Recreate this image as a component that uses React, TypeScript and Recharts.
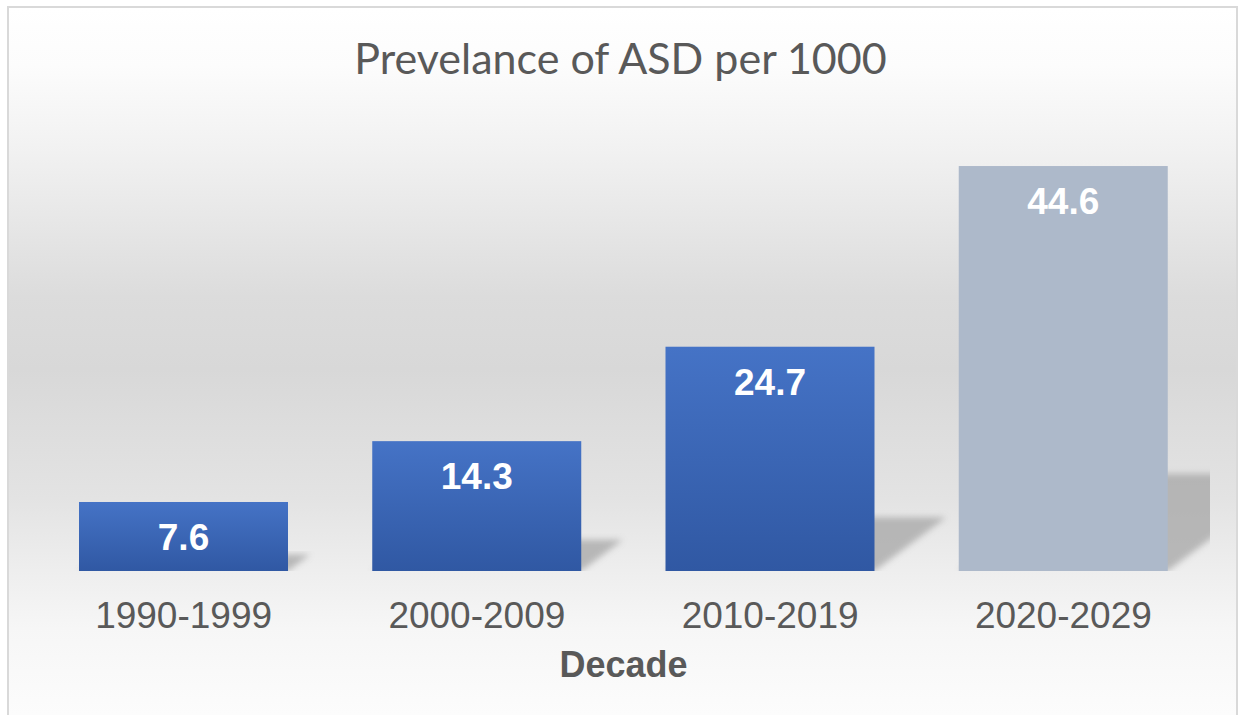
import React from 'react'
import { BarChart, Bar, XAxis, YAxis, Cell, LabelList } from 'recharts'

const decades = ['1990-1999', '2000-2009', '2010-2019', '2020-2029']
const prevalence = [7.6, 14.3, 24.7, 44.6]
const yDomain = [0, 50]

const data = decades.map((decade, i) => ({ decade, value: prevalence[i] }))

const W = 1241
const H = 715
const MARGIN = { top: 117, right: 31, bottom: 39, left: 37 }
const BAR_FILLS = ['url(#blueGrad)', 'url(#blueGrad)', 'url(#blueGrad)', '#ADB9CA']

function ShadowBar(props: any) {
  const { x, y, width, height, fill } = props
  const base = y + height
  const dx = height * 0.32
  const dy = height * 0.24
  const pts = [
    [x, base],
    [x + width, base],
    [x + width + dx, base - dy],
    [x + dx, base - dy],
  ]
    .map((p) => p.join(','))
    .join(' ')
  return (
    <g>
      <g clipPath="url(#plotClip)">
        <polygon points={pts} fill="#a6a6a6" opacity={0.75} filter="url(#shadowBlur)" />
      </g>
      <rect x={x} y={y} width={width} height={height} fill={fill} />
    </g>
  )
}

function DecadeTick({ x, y, payload }: any) {
  return (
    <text x={x} y={y + 57} textAnchor="middle" fill="#595959" fontSize={37} fontFamily="'Liberation Sans', Arial, sans-serif">
      {payload.value}
    </text>
  )
}

export default function App() {
  return (
    <div
      style={{
        position: 'absolute',
        left: 0,
        top: 0,
        width: W,
        height: H,
        overflow: 'hidden',
        background: '#ffffff',
      }}
    >
      <div
        style={{
          position: 'absolute',
          left: 7,
          top: 6,
          width: W - 7 - 3,
          height: H + 10,
          border: '2px solid #d9d9d9',
          boxSizing: 'border-box',
          background:
            'linear-gradient(to bottom, #ffffff 0%, #fcfcfc 8%, #f1f1f1 20%, #dcdcdc 40%, #d8d8d8 50%, #e3e3e3 68%, #eeeeee 78%, #f6f6f6 86%, #fdfdfd 100%)',
        }}
      />
      <div
        style={{
          position: 'absolute',
          left: 0,
          top: 31,
          width: W,
          textAlign: 'center',
          fontFamily: 'Lato, "Open Sans", sans-serif',
          fontSize: 43,
          color: '#595959',
          lineHeight: '54px',
        }}
      >
        Prevelance of ASD per 1000
      </div>
      <div style={{ position: 'absolute', left: 0, top: 0 }}>
        <BarChart width={W} height={H} data={data} margin={MARGIN}>
          <defs>
            <linearGradient id="blueGrad" x1="0" y1="0" x2="0" y2="1">
              <stop offset="0%" stopColor="#4573c6" />
              <stop offset="100%" stopColor="#3058a3" />
            </linearGradient>
            <filter id="shadowBlur" x="-20%" y="-20%" width="140%" height="140%">
              <feGaussianBlur stdDeviation="3" />
            </filter>
            <clipPath id="plotClip">
              <rect x={MARGIN.left} y={0} width={W - MARGIN.left - MARGIN.right} height={H - MARGIN.bottom - 105} />
            </clipPath>
          </defs>
          <YAxis hide domain={yDomain} />
          <XAxis
            dataKey="decade"
            axisLine={false}
            tickLine={false}
            tickSize={0}
            tickMargin={0}
            height={105}
            interval={0}
            tick={<DecadeTick />}
            label={{
              value: 'Decade',
              position: 'insideBottom',
              offset: -1,
              fill: '#595959',
              fontSize: 36,
              fontWeight: 'bold',
              fontFamily: "'Liberation Sans', Arial, sans-serif",
            }}
          />
          <Bar dataKey="value" barSize={209} isAnimationActive={false} shape={<ShadowBar />}>
            {data.map((_, i) => (
              <Cell key={`c-${i}`} fill={BAR_FILLS[i]} />
            ))}
            <LabelList
              dataKey="value"
              position="insideTop"
              offset={22}
              fill="#ffffff"
              fontSize={37}
              fontWeight="bold"
              fontFamily="'Liberation Sans', Arial, sans-serif"
            />
          </Bar>
        </BarChart>
      </div>
    </div>
  )
}
